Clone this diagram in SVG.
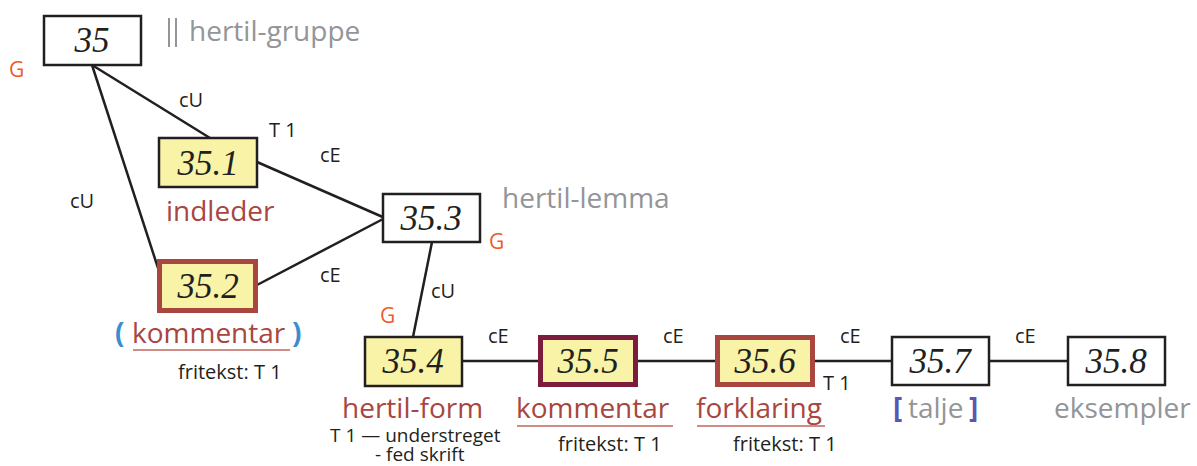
<svg xmlns="http://www.w3.org/2000/svg" width="1197" height="466" viewBox="0 0 1197 466">
<style>
.box{stroke:#231f20;stroke-width:2.5}
.w{fill:#fff}
.y{fill:#f8f3a6}
.num{font-family:"Liberation Serif",serif;font-style:italic;font-size:35px;fill:#231f20;text-anchor:middle}
.lbl{font-family:"Open Sans","Liberation Sans",sans-serif;font-size:20px;fill:#231f20}
.big{font-family:"Open Sans","Liberation Sans",sans-serif;font-size:28px}
.gray{fill:#939598}
.brown{fill:#a8463f}
.br{font-weight:bold}
.g{font-family:"Open Sans","Liberation Sans",sans-serif;font-size:21px;fill:#ef5a28}
.ul{stroke:#c0675e;stroke-width:1.5}
.edge{stroke:#231f20;stroke-width:2.5;fill:none}
</style>
<g id="connectors">
<line class="edge" x1="92" y1="65" x2="210" y2="138"/>
<line class="edge" x1="92" y1="65" x2="158" y2="268"/>
<line class="edge" x1="257" y1="162" x2="385" y2="218"/>
<line class="edge" x1="257" y1="285" x2="385" y2="218"/>
<line class="edge" x1="432" y1="242" x2="413" y2="337"/>
<line class="edge" x1="462" y1="361" x2="538" y2="361"/>
<line class="edge" x1="638" y1="361" x2="715" y2="361"/>
<line class="edge" x1="815" y1="361" x2="892" y2="361"/>
<line class="edge" x1="989" y1="361" x2="1068" y2="361"/>
<text class="lbl" x="179" y="107">cU</text>
<text class="lbl" x="70" y="208">cU</text>
<text class="lbl" x="320" y="162">cE</text>
<text class="lbl" x="320" y="282">cE</text>
<text class="lbl" x="431" y="298">cU</text>
<text class="lbl" x="488" y="343">cE</text>
<text class="lbl" x="663" y="343">cE</text>
<text class="lbl" x="840" y="343">cE</text>
<text class="lbl" x="1015" y="343">cE</text>
</g>
<g id="n35">
<rect class="box w" x="44" y="16" width="97" height="49"/>
<text class="num" x="92" y="52">35</text>
<line x1="169" y1="18" x2="169" y2="47" stroke="#939598" stroke-width="2"/>
<line x1="176" y1="18" x2="176" y2="47" stroke="#939598" stroke-width="2"/>
<text class="big gray" x="189" y="41">hertil-gruppe</text>
<text class="g" x="9" y="77">G</text>
</g>
<g id="n35-1">
<rect class="box y" x="159" y="138" width="98" height="49"/>
<text class="num" x="208" y="175">35.1</text>
<text class="big brown" x="166" y="221">indleder</text>
<text class="lbl" x="269" y="137">T 1</text>
</g>
<g id="n35-2">
<rect class="y" x="159.5" y="261.5" width="96" height="49" stroke="#a8463f" stroke-width="5"/>
<text class="num" x="208" y="298">35.2</text>
<text class="big br" x="115" y="343" fill="#3a8dd0">(</text>
<text class="big brown" x="132" y="343">kommentar</text>
<text class="big br" x="292" y="343" fill="#3a8dd0">)</text>
<line class="ul" x1="133" y1="350" x2="290" y2="350"/>
<text class="lbl" x="178" y="379">fritekst: T 1</text>
</g>
<g id="n35-3">
<rect class="box w" x="383" y="194" width="97" height="48"/>
<text class="num" x="431" y="230">35.3</text>
<text class="big gray" x="502" y="208">hertil-lemma</text>
<text class="g" x="489" y="249">G</text>
</g>
<g id="n35-4">
<rect class="box y" x="365" y="337" width="97" height="49"/>
<text class="num" x="413" y="373">35.4</text>
<text class="g" x="380" y="323">G</text>
<text class="big brown" x="342" y="418">hertil-form</text>
<text class="lbl" x="330" y="442" style="font-size:19px">T 1 — understreget</text>
<text class="lbl" x="375" y="461" style="font-size:19px">- fed skrift</text>
</g>
<g id="n35-5">
<rect class="y" x="540.5" y="337.5" width="95" height="47" stroke="#7b1c3c" stroke-width="5"/>
<text class="num" x="588" y="373">35.5</text>
<text class="big brown" x="516" y="418">kommentar</text>
<line class="ul" x1="517" y1="426" x2="673" y2="426"/>
<text class="lbl" x="558" y="451">fritekst: T 1</text>
</g>
<g id="n35-6">
<rect class="y" x="717.5" y="337.5" width="95" height="47" stroke="#a8463f" stroke-width="5"/>
<text class="num" x="765" y="373">35.6</text>
<text class="big brown" x="696" y="418">forklaring</text>
<line class="ul" x1="697" y1="426" x2="825" y2="426"/>
<text class="lbl" x="733" y="451">fritekst: T 1</text>
<text class="lbl" x="823" y="390">T 1</text>
</g>
<g id="n35-7">
<rect class="box w" x="892" y="337" width="97" height="48"/>
<text class="num" x="940" y="373">35.7</text>
<text class="big br" x="893" y="418" fill="#5a57b0">[</text>
<text class="big gray" x="908" y="418">talje</text>
<text class="big br" x="969" y="418" fill="#5a57b0">]</text>
</g>
<g id="n35-8">
<rect class="box w" x="1068" y="337" width="97" height="48"/>
<text class="num" x="1116" y="373">35.8</text>
<text class="big gray" x="1054" y="418">eksempler</text>
</g>
</svg>
